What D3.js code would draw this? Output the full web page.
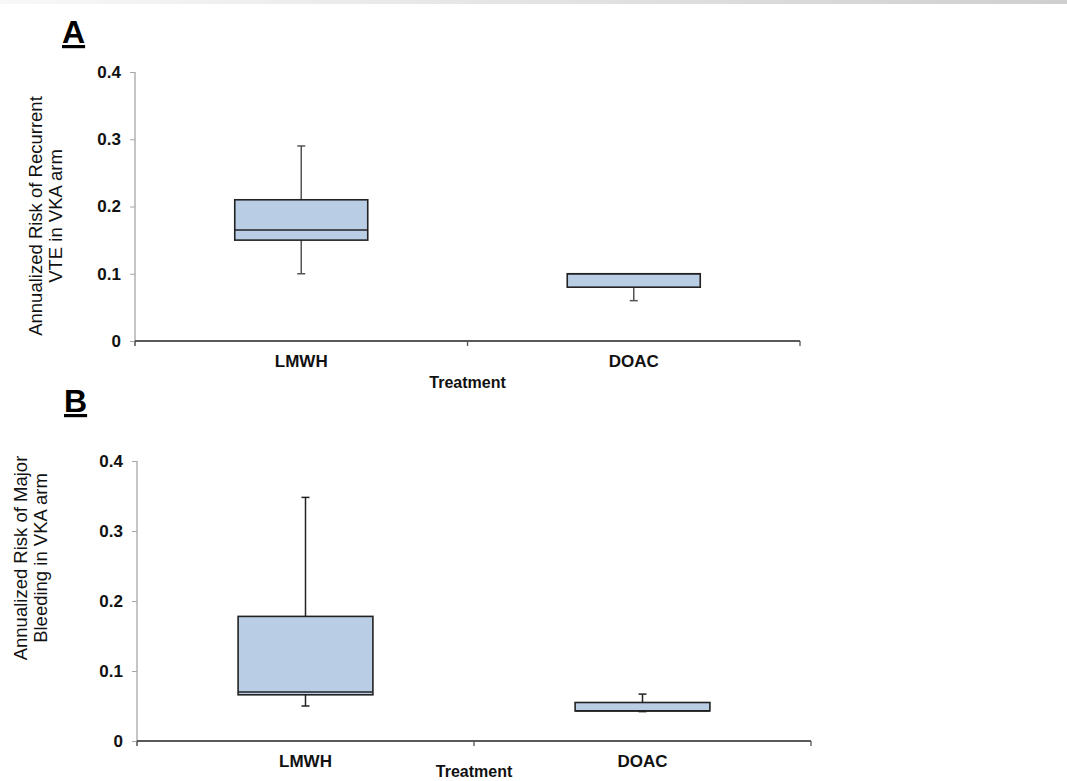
<!DOCTYPE html>
<html>
<head>
<meta charset="utf-8">
<script src="https://cdn.jsdelivr.net/npm/d3@7"></script>
<style>
  body { margin: 0; background: #fff; }
  text { font-family: Arial, "Liberation Sans", sans-serif; }
</style>
</head>
<body>
<script>
var categories = ["LMWH", "DOAC"];
var yTicks = [0, 0.1, 0.2, 0.3, 0.4];

// panel A: recurrent VTE
var vteMin = [0.10, 0.06];
var vteQ1 = [0.15, 0.08];
var vteMedian = [0.165, 0.10];
var vteQ3 = [0.21, 0.10];
var vteMax = [0.29, 0.10];

// panel B: major bleeding
var bleedMin = [0.05, 0.042];
var bleedQ1 = [0.066, 0.043];
var bleedMedian = [0.070, 0.043];
var bleedQ3 = [0.178, 0.055];
var bleedMax = [0.348, 0.067];

var width = 1067;
var height = 781;

var svg = d3.select("body").append("svg").attr("width", width).attr("height", height);

// faint grey strip along the top edge
var grad = svg.append("defs").append("linearGradient").attr("id", "topgrad");
grad.append("stop").attr("offset", "0%").attr("stop-color", "#f8f8f8");
grad.append("stop").attr("offset", "100%").attr("stop-color", "#cfcfcf");
svg.append("rect").attr("x", 0).attr("y", 0).attr("width", width).attr("height", 4).attr("fill", "url(#topgrad)");

function buildRows(mins, q1s, meds, q3s, maxs) {
    return categories.map(function(c, i) {
        return {cat: c, min: mins[i], q1: q1s[i], med: meds[i], q3: q3s[i], max: maxs[i]};
    });
}

function drawPanel(opt) {
    var x = d3.scaleBand().domain(categories).range([opt.left, opt.right]);
    var y = d3.scaleLinear().domain([0, 0.4]).range([opt.bottom, opt.top]);

    var g = svg.append("g");

    // panel letter, underlined
    g.append("text")
        .attr("x", opt.left - 73).attr("y", opt.letterY)
        .attr("font-size", 32).attr("font-weight", "bold")
        .attr("text-decoration", "underline")
        .text(opt.letter);

    var yAxis = g.append("g")
        .attr("transform", "translate(" + opt.left + ",0)")
        .call(d3.axisLeft(y).tickValues(yTicks).tickSize(5).tickPadding(9)
            .tickFormat(function(d) { return d === 0 ? "0" : d.toFixed(1); }));
    yAxis.attr("font-size", null).attr("font-family", null);
    yAxis.select(".domain").attr("stroke", "#a6a6a6").attr("stroke-width", 1.3)
        .attr("d", "M0," + y(0.4) + "V" + (opt.bottom + 5));
    yAxis.selectAll(".tick line").attr("stroke", "#a6a6a6");
    yAxis.selectAll(".tick text").attr("font-size", 17).attr("font-weight", "bold").attr("fill", "#111");

    // x axis with ticks at band edges
    var xg = g.append("g");
    xg.append("line")
        .attr("x1", opt.left).attr("x2", opt.right)
        .attr("y1", opt.bottom).attr("y2", opt.bottom)
        .attr("stroke", "#222").attr("stroke-width", 1.3);
    var edges = [opt.left, x(categories[1]), opt.right];
    xg.selectAll("line.xt").data(edges).enter().append("line")
        .attr("class", "xt")
        .attr("x1", function(d) { return d; }).attr("x2", function(d) { return d; })
        .attr("y1", opt.bottom).attr("y2", opt.bottom + 5)
        .attr("stroke", "#555").attr("stroke-width", 1.3);
    xg.selectAll("text.cat").data(categories).enter().append("text")
        .attr("class", "cat")
        .attr("x", function(d) { return x(d) + x.bandwidth() / 2; })
        .attr("y", opt.bottom + 26)
        .attr("text-anchor", "middle")
        .attr("font-size", 17).attr("font-weight", "bold").attr("fill", "#111")
        .text(function(d) { return d; });
    g.append("text")
        .attr("x", (opt.left + opt.right) / 2).attr("y", opt.bottom + opt.titleDy)
        .attr("text-anchor", "middle")
        .attr("font-size", 16).attr("font-weight", "bold").attr("fill", "#111")
        .text("Treatment");

    // y axis title, two lines
    var yt = g.append("text")
        .attr("transform", "translate(" + opt.yTitleX + "," + opt.yTitleY + ") rotate(-90)")
        .attr("text-anchor", "middle")
        .attr("font-size", 18.5).attr("fill", "#111");
    yt.append("tspan").attr("x", 0).attr("dy", 0).text(opt.yTitle[0]);
    yt.append("tspan").attr("x", 0).attr("dy", 20).text(opt.yTitle[1]);

    // boxes
    var bw = x.bandwidth() * 0.4;
    var boxes = g.selectAll("g.box").data(opt.rows).enter().append("g").attr("class", "box");
    var cx = function(d) { return x(d.cat) + x.bandwidth() / 2; };

    boxes.append("line")
        .attr("x1", cx).attr("x2", cx)
        .attr("y1", function(d) { return y(d.max); }).attr("y2", function(d) { return y(d.min); })
        .attr("stroke", opt.whisker).attr("stroke-width", 1.5);
    boxes.append("line")
        .attr("x1", function(d) { return cx(d) - 4; }).attr("x2", function(d) { return cx(d) + 4; })
        .attr("y1", function(d) { return y(d.max); }).attr("y2", function(d) { return y(d.max); })
        .attr("stroke", opt.whisker).attr("stroke-width", 1.5);
    boxes.append("line")
        .attr("x1", function(d) { return cx(d) - 4; }).attr("x2", function(d) { return cx(d) + 4; })
        .attr("y1", function(d) { return y(d.min); }).attr("y2", function(d) { return y(d.min); })
        .attr("stroke", opt.whisker).attr("stroke-width", 1.5);
    boxes.append("rect")
        .attr("x", function(d) { return cx(d) - bw / 2; })
        .attr("width", bw)
        .attr("y", function(d) { return y(d.q3); })
        .attr("height", function(d) { return y(d.q1) - y(d.q3); })
        .attr("fill", "#b9cde5").attr("stroke", "#222").attr("stroke-width", 1.6);
    boxes.append("line")
        .attr("x1", function(d) { return cx(d) - bw / 2; }).attr("x2", function(d) { return cx(d) + bw / 2; })
        .attr("y1", function(d) { return y(d.med); }).attr("y2", function(d) { return y(d.med); })
        .attr("stroke", "#222").attr("stroke-width", 1.6);
}

drawPanel({
    letter: "A", letterY: 43,
    left: 135, right: 800, top: 72, bottom: 341, titleDy: 47,
    yTitle: ["Annualized Risk of Recurrent", "VTE in VKA arm"],
    yTitleX: 42, yTitleY: 216,
    whisker: "#555",
    rows: buildRows(vteMin, vteQ1, vteMedian, vteQ3, vteMax)
});

drawPanel({
    letter: "B", letterY: 412,
    left: 137, right: 811, top: 461, bottom: 741, titleDy: 36,
    yTitle: ["Annualized Risk of Major", "Bleeding in VKA arm"],
    yTitleX: 27, yTitleY: 558,
    whisker: "#222",
    rows: buildRows(bleedMin, bleedQ1, bleedMedian, bleedQ3, bleedMax)
});
</script>
</body>
</html>
